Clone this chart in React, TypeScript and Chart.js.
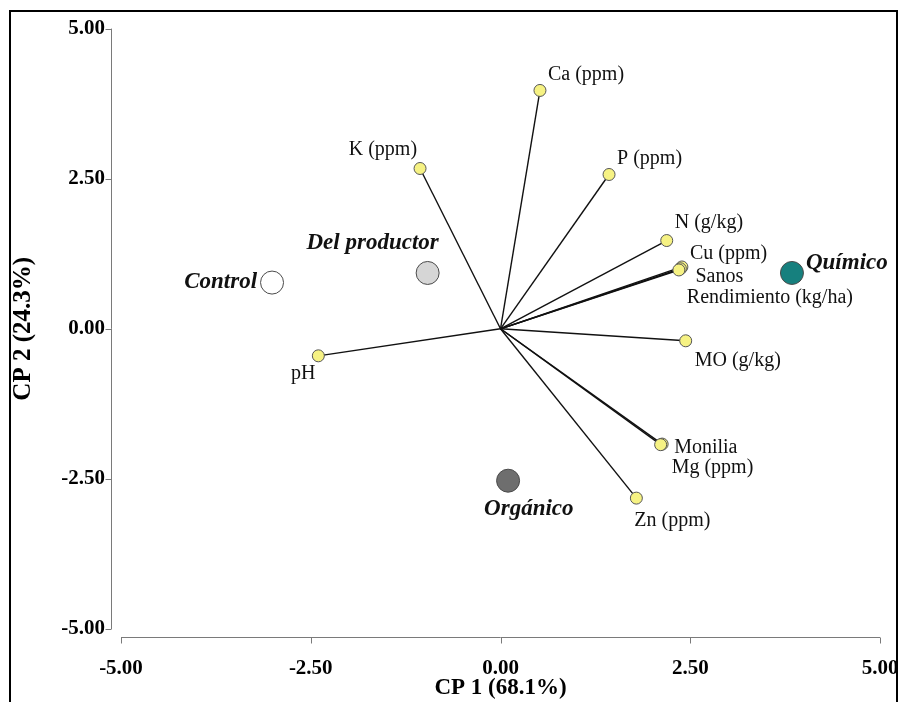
import React, { useEffect, useRef } from "react";
import { Chart, registerables } from "chart.js";

Chart.register(...registerables);

// ---- data ----
const variableNames = [
  "Ca (ppm)",
  "K (ppm)",
  "P (ppm)",
  "N (g/kg)",
  "Cu (ppm)",
  "Sanos",
  "Rendimiento (kg/ha)",
  "MO (g/kg)",
  "pH",
  "Monilia",
  "Mg (ppm)",
  "Zn (ppm)",
];
const variableCP1 = [0.52, -1.06, 1.43, 2.19, 2.39, 2.37, 2.35, 2.44, -2.4, 2.13, 2.11, 1.79];
const variableCP2 = [3.97, 2.67, 2.57, 1.47, 1.03, 1.0, 0.98, -0.2, -0.45, -1.92, -1.93, -2.82];

const treatmentNames = ["Control", "Del productor", "Químico", "Orgánico"];
const treatmentCP1 = [-3.01, -0.96, 3.84, 0.1];
const treatmentCP2 = [0.77, 0.93, 0.93, -2.53];

const tickValues = [-5, -2.5, 0, 2.5, 5];
const xTitle = "CP 1 (68.1%)";
const yTitle = "CP 2 (24.3%)";

// ---- styles (label placement in pixels relative to marker) ----
const variableLabelStyle: [number, number, CanvasTextAlign][] = [
  [8, -16, "left"],
  [-3, -19, "right"],
  [8, -16, "left"],
  [8, -18, "left"],
  [8, -13, "left"],
  [15, 8, "left"],
  [8, 28, "left"],
  [9, 20, "left"],
  [-15, 18, "center"],
  [12, 4, "left"],
  [11, 23, "left"],
  [-2, 23, "left"],
];
const treatmentLabelStyle: [number, number, CanvasTextAlign][] = [
  [-15, -1, "right"],
  [-55, -30, "center"],
  [14, -10, "left"],
  [-24, 28, "left"],
];
const treatmentColors = ["#ffffff", "#d6d6d6", "#16807e", "#6e6e6e"];
const FONT = "'Liberation Serif', 'Times New Roman', serif";

export default function App() {
  const canvasRef = useRef<HTMLCanvasElement | null>(null);

  useEffect(() => {
    const canvas = canvasRef.current;
    if (!canvas) return;

    const lineDatasets = variableNames.map((name, i) => ({
      type: "scatter" as const,
      label: name,
      data: [
        { x: 0, y: 0 },
        { x: variableCP1[i], y: variableCP2[i] },
      ],
      showLine: true,
      borderColor: "#111111",
      borderWidth: 1.4,
      pointRadius: 0,
      order: 3,
    }));

    const variablePoints = {
      type: "scatter" as const,
      label: "variables",
      data: variableCP1.map((x, i) => ({ x, y: variableCP2[i] })),
      pointRadius: 6,
      pointBackgroundColor: "#f6f283",
      pointBorderColor: "#555555",
      pointBorderWidth: 1,
      showLine: false,
      order: 2,
    };

    const treatmentPoints = {
      type: "scatter" as const,
      label: "tratamientos",
      data: treatmentCP1.map((x, i) => ({ x, y: treatmentCP2[i] })),
      pointRadius: 11.5,
      pointBackgroundColor: treatmentColors,
      pointBorderColor: "#4a4a4a",
      pointBorderWidth: 1,
      showLine: false,
      order: 1,
    };

    const axesPlugin = {
      id: "sigmaAxes",
      beforeDatasetsDraw(chart: any) {
        const { ctx, chartArea, scales } = chart;
        const xs = scales.x;
        const ys = scales.y;
        ctx.save();
        ctx.strokeStyle = "#7a7a7a";
        ctx.lineWidth = 1;
        const ax = Math.round(chartArea.left - 10) + 0.5;
        ctx.beginPath();
        ctx.moveTo(ax, ys.getPixelForValue(5));
        ctx.lineTo(ax, ys.getPixelForValue(-5));
        tickValues.forEach((v) => {
          const py = Math.round(ys.getPixelForValue(v)) + 0.5;
          ctx.moveTo(ax - 6, py);
          ctx.lineTo(ax, py);
        });
        ctx.stroke();
        const ay = Math.round(chartArea.bottom + 8) + 0.5;
        ctx.beginPath();
        ctx.moveTo(xs.getPixelForValue(-5), ay);
        ctx.lineTo(xs.getPixelForValue(5), ay);
        tickValues.forEach((v) => {
          const px = Math.round(xs.getPixelForValue(v)) + 0.5;
          ctx.moveTo(px, ay);
          ctx.lineTo(px, ay + 6);
        });
        ctx.stroke();
        ctx.restore();
      },
    };

    const labelsPlugin = {
      id: "biplotLabels",
      afterDatasetsDraw(chart: any) {
        const { ctx, scales } = chart;
        const xs = scales.x;
        const ys = scales.y;
        ctx.save();
        ctx.textBaseline = "middle";
        ctx.fillStyle = "#111111";
        ctx.font = `20px ${FONT}`;
        variableNames.forEach((name, i) => {
          const [dx, dy, align] = variableLabelStyle[i];
          ctx.textAlign = align;
          ctx.fillText(
            name,
            xs.getPixelForValue(variableCP1[i]) + dx,
            ys.getPixelForValue(variableCP2[i]) + dy
          );
        });
        ctx.font = `italic bold 23px ${FONT}`;
        treatmentNames.forEach((name, i) => {
          const [dx, dy, align] = treatmentLabelStyle[i];
          ctx.textAlign = align;
          ctx.fillText(
            name,
            xs.getPixelForValue(treatmentCP1[i]) + dx,
            ys.getPixelForValue(treatmentCP2[i]) + dy
          );
        });
        ctx.restore();
      },
    };

    const tickFont = { family: FONT, size: 21, weight: "bold" as const };
    const titleFont = { family: FONT, size: 23, weight: "bold" as const };

    const chart = new Chart(canvas, {
      type: "scatter",
      data: { datasets: [...lineDatasets, variablePoints, treatmentPoints] as any },
      options: {
        animation: false,
        responsive: false,
        devicePixelRatio: 1,
        layout: { padding: { top: 28, right: 23, left: 0, bottom: 0 } },
        plugins: { legend: { display: false }, tooltip: { enabled: false } },
        events: [],
        scales: {
          x: {
            type: "linear",
            min: -5,
            max: 5,
            afterBuildTicks: (s: any) => {
              s.ticks = tickValues.map((v) => ({ value: v }));
            },
            afterFit: (s: any) => {
              s.height = 73;
              s.paddingLeft = 0;
              s.paddingRight = 0;
            },
            ticks: {
              callback: (v: any) => Number(v).toFixed(2),
              font: tickFont,
              color: "#000",
              padding: 27,
              maxRotation: 0,
              autoSkip: false,
            },
            grid: { display: false, drawTicks: false },
            border: { display: false },
            title: {
              display: true,
              text: xTitle,
              font: titleFont,
              color: "#000",
              padding: { top: 0, bottom: 0 },
            },
          },
          y: {
            type: "linear",
            min: -5,
            max: 5,
            afterBuildTicks: (s: any) => {
              s.ticks = tickValues.map((v) => ({ value: v }));
            },
            afterFit: (s: any) => {
              s.width = 121;
            },
            ticks: {
              callback: (v: any) => Number(v).toFixed(2),
              font: tickFont,
              color: "#000",
              padding: 16,
              autoSkip: false,
            },
            grid: { display: false, drawTicks: false },
            border: { display: false },
            title: {
              display: true,
              text: yTitle,
              font: { family: FONT, size: 25, weight: "bold" as const },
              color: "#000",
              padding: { top: 9, bottom: 0 },
            },
          },
        },
      },
      plugins: [axesPlugin, labelsPlugin],
    });

    return () => chart.destroy();
  }, []);

  return (
    <div
      style={{
        position: "fixed",
        left: 0,
        top: 0,
        width: 903,
        height: 702,
        overflow: "hidden",
        background: "#fff",
      }}
    >
      <canvas
        ref={canvasRef}
        width={903}
        height={702}
        style={{ position: "absolute", left: 0, top: 0, width: 903, height: 702 }}
      />
      <div
        style={{
          position: "absolute",
          left: 9,
          top: 10,
          width: 885,
          height: 720,
          border: "2px solid #000",
          pointerEvents: "none",
        }}
      />
    </div>
  );
}
